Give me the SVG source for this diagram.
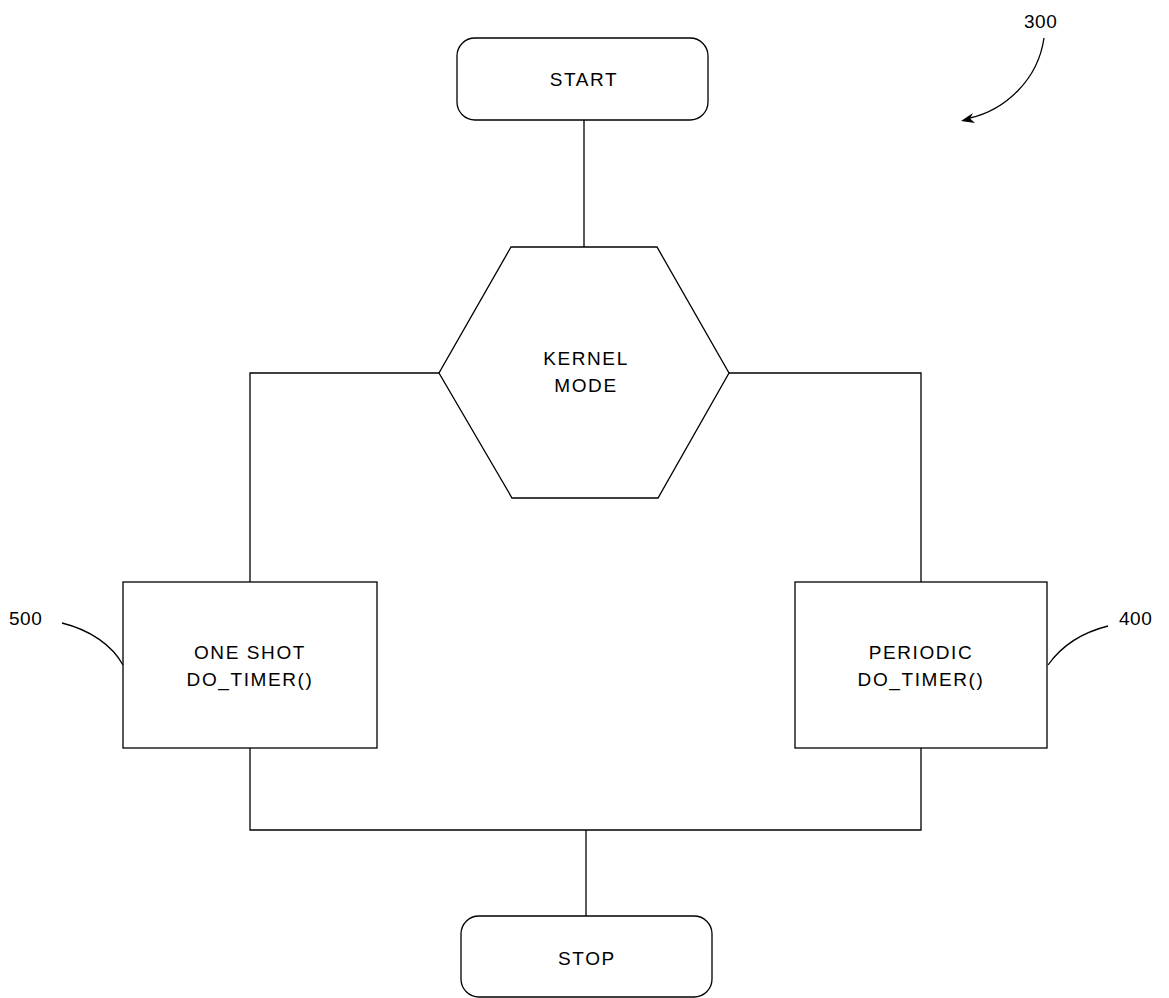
<svg xmlns="http://www.w3.org/2000/svg" width="1169" height="998" viewBox="0 0 1169 998">
<defs>
<style>
.s{fill:#fff;stroke:#000;stroke-width:1.3}
.c{fill:none;stroke:#000;stroke-width:1.3}
.t{font-family:"Liberation Sans",Arial,sans-serif;font-size:19px;fill:#000;text-anchor:middle;letter-spacing:1.6px}
.n{font-family:"Liberation Sans",Arial,sans-serif;font-size:19px;fill:#000;letter-spacing:0.5px}
</style>
</defs>
<g id="connectors">
<line class="c" x1="584" y1="120" x2="584" y2="247"/>
<polyline class="c" points="439,373 250,373 250,582"/>
<polyline class="c" points="729,373 921,373 921,582"/>
<polyline class="c" points="250,748 250,830 921,830 921,748"/>
<line class="c" x1="586" y1="830" x2="586" y2="916"/>
</g>
<g id="start">
<rect class="s" x="457" y="38" width="251" height="82" rx="18"/>
<text class="t" x="584" y="86">START</text>
</g>
<g id="kernel">
<polygon class="s" points="511,247 657,247 729,373 658,498 512,498 439,373"/>
<text class="t" x="586" y="365">KERNEL</text>
<text class="t" x="586" y="392">MODE</text>
</g>
<g id="oneshot">
<rect class="s" x="123" y="582" width="254" height="166"/>
<text class="t" x="250" y="659">ONE SHOT</text>
<text class="t" x="250" y="686">DO_TIMER()</text>
</g>
<g id="periodic">
<rect class="s" x="795" y="582" width="252" height="166"/>
<text class="t" x="921" y="659">PERIODIC</text>
<text class="t" x="921" y="686">DO_TIMER()</text>
</g>
<g id="stop">
<rect class="s" x="461" y="916" width="251" height="81" rx="18"/>
<text class="t" x="587" y="965">STOP</text>
</g>
<g id="ref300">
<text class="n" x="1024" y="28">300</text>
<path class="c" d="M1044,38 C1038,80 1005,110 970,118"/>
<polygon points="961,121 973,113 970,118.5 975,123" fill="#000"/>
</g>
<g id="ref500">
<text class="n" x="9" y="625">500</text>
<path class="c" d="M62,623 C90,630 112,645 123,665"/>
</g>
<g id="ref400">
<text class="n" x="1119" y="625">400</text>
<path class="c" d="M1108,626 C1080,633 1060,648 1048,665"/>
</g>
</svg>
